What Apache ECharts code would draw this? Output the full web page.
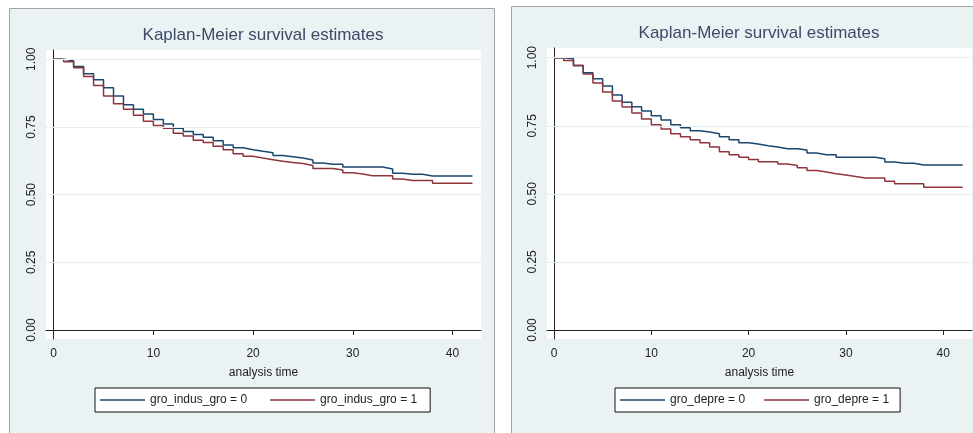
<!DOCTYPE html>
<html style="height: 100%">
<head>
<meta charset="utf-8">
<script src="https://cdn.jsdelivr.net/npm/echarts@6/dist/echarts.min.js"></script>
</head>
<body style="height: 100%; margin: 0; background: #fff">
<div id="container" style="width: 973px; height: 433px"></div>
<script type="text/javascript">
// analysis time (integer event times)
var times = [0, 1, 2, 3, 4, 5, 6, 7, 8, 9, 10, 11, 12, 13, 14, 15, 16, 17, 18, 19, 20,
	21, 22, 23, 24, 25, 26, 27, 28, 29, 30, 31, 32, 33, 34, 35, 36, 37, 38, 39, 40, 41, 42];
// survival estimate from each time on
var indus0 = [1.000, 0.995, 0.973, 0.947, 0.924, 0.895, 0.864, 0.832, 0.815, 0.798, 0.778,
	0.761, 0.745, 0.733, 0.722, 0.712, 0.699, 0.683, 0.673, 0.666, 0.660, 0.655, 0.645,
	0.640, 0.635, 0.628, 0.617, 0.612, 0.612, 0.602, 0.602, 0.602, 0.602, 0.595, 0.579,
	0.575, 0.575, 0.569, 0.569, 0.569, 0.569, 0.569, 0.569];
var indus1 = [1.000, 0.991, 0.969, 0.936, 0.903, 0.864, 0.836, 0.815, 0.793, 0.771, 0.755,
	0.745, 0.727, 0.717, 0.701, 0.693, 0.679, 0.666, 0.651, 0.642, 0.635, 0.629, 0.623,
	0.619, 0.615, 0.608, 0.597, 0.597, 0.591, 0.581, 0.576, 0.570, 0.570, 0.570, 0.558,
	0.552, 0.552, 0.552, 0.542, 0.542, 0.542, 0.542, 0.542];
var depre0 = [1.000, 0.996, 0.970, 0.945, 0.923, 0.896, 0.863, 0.836, 0.820, 0.804, 0.787,
	0.771, 0.754, 0.743, 0.732, 0.727, 0.721, 0.710, 0.699, 0.688, 0.683, 0.677, 0.672,
	0.666, 0.666, 0.661, 0.650, 0.644, 0.644, 0.634, 0.634, 0.634, 0.634, 0.629, 0.617,
	0.612, 0.612, 0.606, 0.606, 0.606, 0.606, 0.606, 0.606];
var depre1 = [1.000, 0.990, 0.972, 0.940, 0.907, 0.874, 0.841, 0.819, 0.797, 0.775, 0.754,
	0.738, 0.721, 0.710, 0.699, 0.688, 0.672, 0.655, 0.644, 0.634, 0.626, 0.618, 0.618,
	0.610, 0.604, 0.596, 0.586, 0.580, 0.574, 0.569, 0.564, 0.558, 0.558, 0.558, 0.546,
	0.537, 0.537, 0.537, 0.524, 0.524, 0.524, 0.524, 0.524];
var xTicks = [0, 10, 20, 30, 40];
var yTicks = [0, 0.25, 0.5, 0.75, 1];
var yGrid = [0.25, 0.5, 0.75, 1];
var names = ['gro_indus_gro = 0', 'gro_indus_gro = 1', 'gro_depre = 0', 'gro_depre = 1'];
var titleText = 'Kaplan-Meier survival estimates';

var NAVY = '#1a476f', MAROON = '#90353b', BG = '#eaf2f3';
var font = 'Liberation Sans, Arial, sans-serif';

function pairs(vals) {
	return times.map(function(t, i) { return [t, vals[i]]; });
}

function xAxis(idx, min, max) {
	return {
		type: 'value', gridIndex: idx, min: min, max: max,
		name: 'analysis time', nameLocation: 'middle', nameGap: 28,
		nameTextStyle: { color: '#222', fontSize: 12, fontFamily: font },
		axisLine: { lineStyle: { color: '#222', width: 1 } },
		axisTick: { show: true, length: 5, customValues: xTicks, lineStyle: { color: '#222' } },
		axisLabel: { margin: 9, customValues: xTicks, color: '#222', fontSize: 12, fontFamily: font },
		splitLine: { show: false }
	};
}

function yAxis(idx, min, max) {
	return {
		type: 'value', gridIndex: idx, min: min, max: max,
		axisLine: { show: true, lineStyle: { color: '#222', width: 1 } },
		axisTick: { show: true, length: 5, customValues: yTicks, lineStyle: { color: '#222' } },
		axisLabel: {
			margin: 8, rotate: 90, customValues: yTicks, color: '#222', fontSize: 12, fontFamily: font,
			formatter: function(v) { return v.toFixed(2); }
		},
		splitLine: { show: false }
	};
}

function km(name, vals, idx, color, grid) {
	var s = {
		name: name, type: 'line', step: 'end', xAxisIndex: idx, yAxisIndex: idx,
		data: pairs(vals), symbol: 'none', z: 3,
		lineStyle: { color: color, width: 1.5 }, itemStyle: { color: color }
	};
	if (grid) {
		s.markLine = {
			silent: true, symbol: 'none', label: { show: false },
			lineStyle: { color: '#e6eef0', width: 1, type: 'solid' },
			data: yGrid.map(function(v) { return { yAxis: v }; })
		};
	}
	return s;
}

function legend(names2, left, gap, padRight) {
	return {
		left: left, top: 388, orient: 'horizontal',
		data: names2.map(function(n) { return { name: n, icon: 'rect' }; }),
		itemWidth: 45, itemHeight: 1.5, itemGap: gap,
		padding: [6, padRight, 6, 5],
		backgroundColor: '#fff', borderColor: '#111', borderWidth: 1,
		textStyle: { color: '#222', fontSize: 12, fontFamily: font }
	};
}

var dom = document.getElementById('container');
var myChart = echarts.init(dom);
var option = {
	backgroundColor: '#fff',
	animation: false,
	graphic: [
		{ type: 'rect', shape: { x: 9.5, y: 8.5, width: 485, height: 440 }, style: { fill: BG, stroke: '#a4a4a4', lineWidth: 1 }, z: -10 },
		{ type: 'rect', shape: { x: 511.5, y: 6.5, width: 470, height: 440 }, style: { fill: BG, stroke: '#a4a4a4', lineWidth: 1 }, z: -10 }
	],
	title: [{
		text: titleText, left: 263, top: 27, padding: 0, textAlign: 'center',
		textStyle: { color: '#3f4a68', fontSize: 17, fontWeight: 'normal', fontFamily: font }
	}, {
		text: titleText, left: 759, top: 25, padding: 0, textAlign: 'center',
		textStyle: { color: '#3f4a68', fontSize: 17, fontWeight: 'normal', fontFamily: font }
	}],
	legend: [legend([names[0], names[1]], 95, 23, 13), legend([names[2], names[3]], 615, 19, 11)],
	grid: [
		{ left: 46, top: 50, width: 435, height: 289, show: true, backgroundColor: '#fff', borderWidth: 0 },
		{ left: 547, top: 48, width: 425, height: 291, show: true, backgroundColor: '#fff', borderWidth: 0 }
	],
	xAxis: [xAxis(0, -0.77, 42.86), xAxis(1, -0.72, 42.96)],
	yAxis: [yAxis(0, -0.0332, 1.0343), yAxis(1, -0.033, 1.0356)],
	series: [
		km(names[0], indus0, 0, NAVY, true),
		km(names[1], indus1, 0, MAROON, false),
		km(names[2], depre0, 1, NAVY, true),
		km(names[3], depre1, 1, MAROON, false)
	]
};
myChart.setOption(option, true);
</script>
</body>
</html>
